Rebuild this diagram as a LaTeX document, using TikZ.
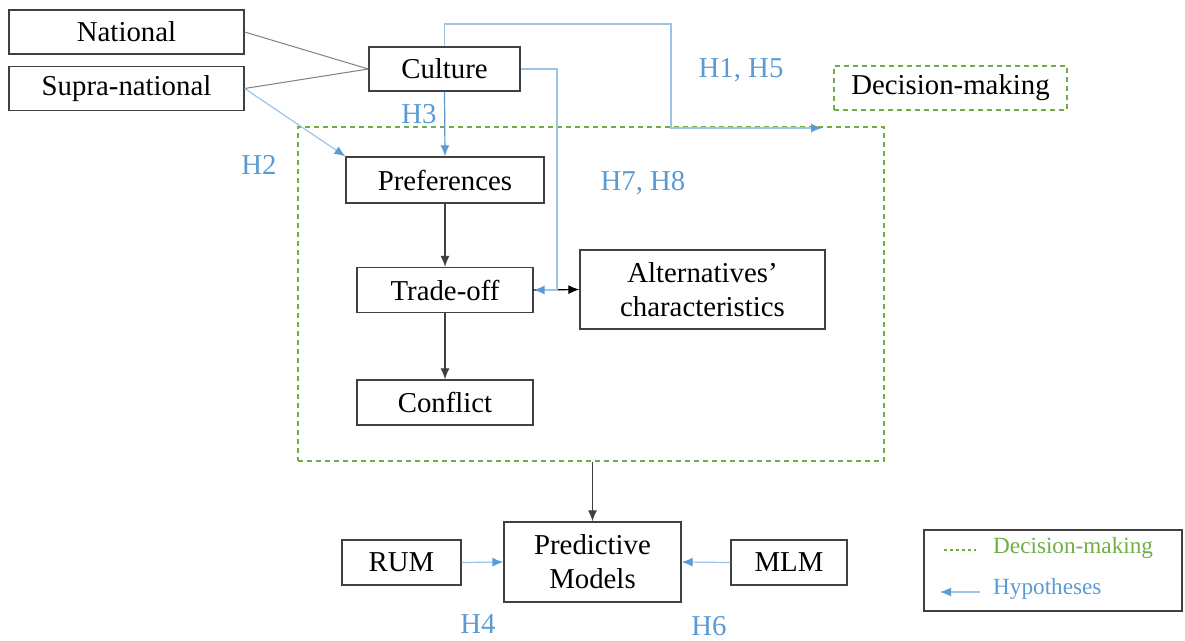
\documentclass[tikz,border=0pt]{standalone}
\usepackage{fontspec}
\setmainfont{Liberation Serif}
\usetikzlibrary{arrows,arrows.meta,positioning,calc}
\definecolor{hypblue}{HTML}{5B9BD5}
\definecolor{hypline}{HTML}{9DC3E6}
\definecolor{dmgreen}{HTML}{70AD47}
\definecolor{boxgray}{HTML}{404040}

\begin{document}
\begin{tikzpicture}[x=1pt,y=-1pt,
  box/.style={draw=boxgray, line width=1.3pt, rectangle, inner sep=0pt, align=center, font=\fontsize{28.8}{34}\selectfont},
  dmbox/.style={draw=dmgreen, line width=1.2pt, dash pattern=on 5pt off 4pt, rectangle, inner sep=0pt},
  hyplabel/.style={text=hypblue, font=\fontsize{28.8}{33}\selectfont},
  hyparrow/.style={draw=hypline, line width=1.2pt, -{Latex[length=11pt,width=9pt,color=hypblue]}},
  flow/.style={draw=boxgray, line width=1.2pt, -{Latex[length=11pt,width=9pt]}}]
\useasboundingbox (0,0) rectangle (1185,640);

% Culture sources
\node[box, minimum width=235, minimum height=44] (national) at (126.5,32) {National};
\node[box, minimum width=235, minimum height=44] (supra) at (126.5,88.5) {Supra-national};
\node[box, minimum width=151, minimum height=44] (culture) at (444.5,69) {Culture};

% Decision-making block
\node[dmbox, minimum width=586, minimum height=334] (dm) at (591,294) {};
\node[dmbox, minimum width=233, minimum height=44, font=\fontsize{28.8}{33}\selectfont] (dmtitle) at (950.5,88) {Decision-making};
\node[box, minimum width=198, minimum height=46] (pref) at (445,180) {Preferences};
\node[box, minimum width=176, minimum height=45] (trade) at (445,290) {Trade-off};
\node[box, minimum width=245, minimum height=79] (alt) at (702.5,289.5) {Alternatives’\\characteristics};
\node[box, minimum width=176, minimum height=45] (conflict) at (445,402.5) {Conflict};

% Models
\node[box, minimum width=177, minimum height=80] (pred) at (592.5,562) {Predictive\\Models};
\node[box, minimum width=119, minimum height=45] (rum) at (401.5,562.5) {RUM};
\node[box, minimum width=116, minimum height=45] (mlm) at (789,562.5) {MLM};

% Links
\draw[gray, line width=1pt] (national.east) -- (culture.west);
\draw[gray, line width=1pt] (supra.east) -- (culture.west);
\draw[hyparrow] (supra.east) -- (pref.north west);
\draw[hyparrow, draw=hypblue!80!gray] (culture.south) -- (pref.north);
\coordinate (h1turn) at (671,24);
\coordinate (h1end) at (822,128);
\draw[hyparrow] (culture.north) |- (h1turn) |- (h1end);
\coordinate (h7turn) at (557,69);
\draw[flow, draw=black] (trade.east) -- (alt.west);
\draw[hyparrow] (culture.east) -- (h7turn) |- (trade.east);
\draw[flow] (pref.south) -- (trade.north);
\draw[flow] (trade.south) -- (conflict.north);
\draw[flow] (pred.north |- dm.south) -- (pred.north);
\draw[hyparrow] (rum.east) -- (pred.west);
\draw[hyparrow] (mlm.west) -- (pred.east);

% Hypotheses
\node[hyplabel] (h3) at (419,114) {H3};
\node[hyplabel] (h2) at (259,165) {H2};
\node[hyplabel] (h15) at (741,70) {H1, H5};
\node[hyplabel] (h78) at (643,183) {H7, H8};
\node[hyplabel] (h4) at (478,624) {H4};
\node[hyplabel] (h6) at (709,626) {H6};

% Legend
\node[box, line width=1.5pt, minimum width=258, minimum height=81] (legend) at (1053,570.5) {};
\node[anchor=west, inner sep=0pt, text=dmgreen, font=\fontsize{23.2}{26}\selectfont] (lgdm) at (993,548) {Decision-making};
\node[anchor=west, inner sep=0pt, text=hypblue, font=\fontsize{23.2}{26}\selectfont] (lghyp) at (993,589) {Hypotheses};
\coordinate (lgdma) at (944,550);
\coordinate (lgdmb) at (976,550);
\draw[draw=dmgreen, line width=1.2pt, dash pattern=on 3pt off 3pt] (lgdma) -- (lgdmb);
\coordinate (lgha) at (980,592);
\coordinate (lghb) at (940,592);
\draw[hyparrow] (lgha) -- (lghb);
\end{tikzpicture}
\end{document}
